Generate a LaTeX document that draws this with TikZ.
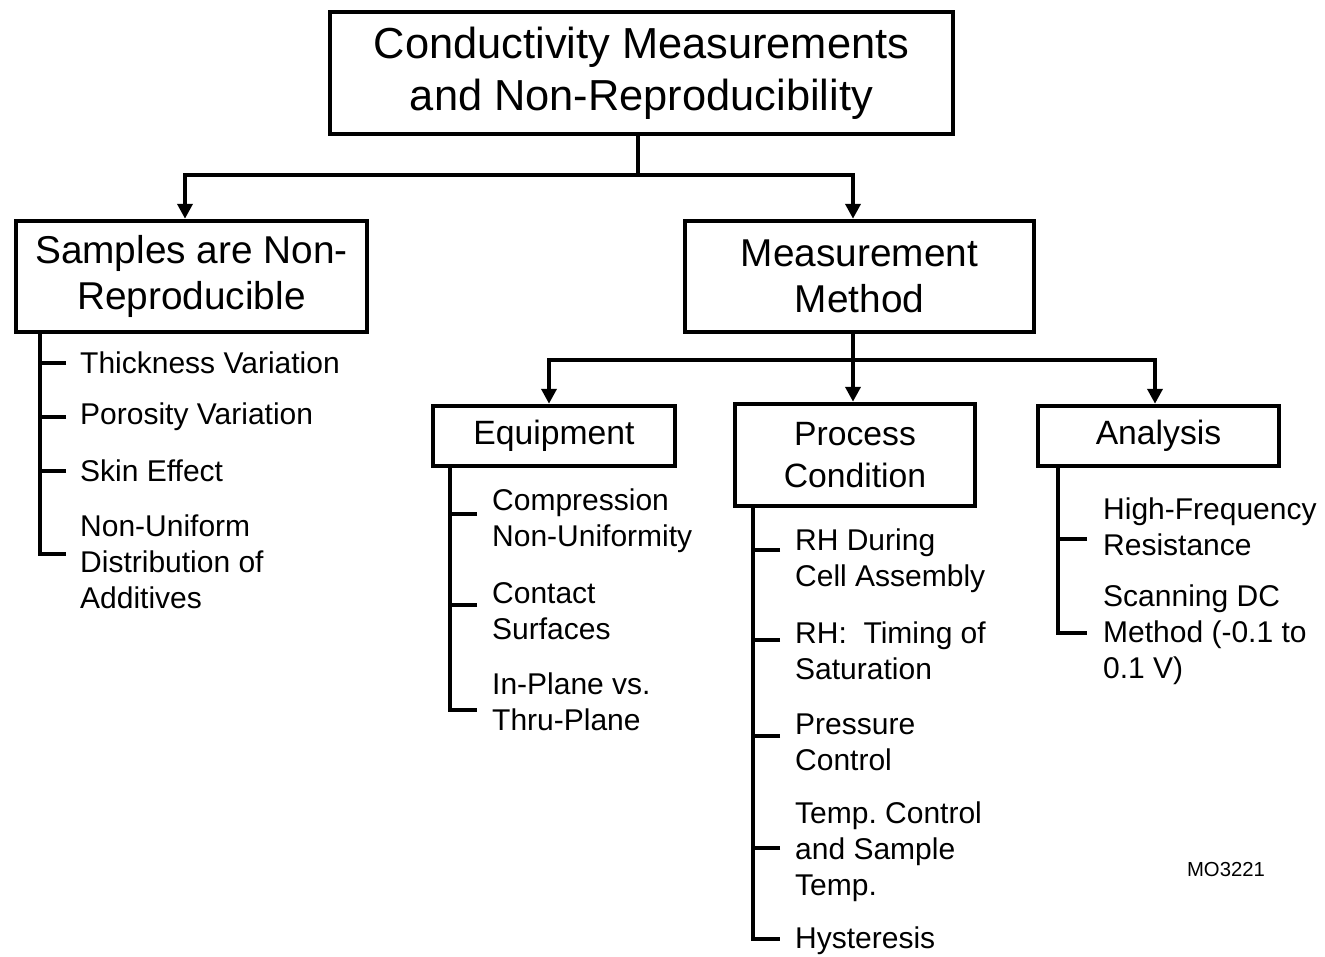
\documentclass[tikz,border=0pt]{standalone}
\usepackage{fontspec}
\setmainfont{Liberation Sans}
\usetikzlibrary{arrows.meta}
\frenchspacing
\begin{document}
\begin{tikzpicture}[x=1pt,y=-1pt,
  box/.style={draw,line width=4.5pt,align=center,inner sep=0pt},
  lvlone/.style={box,font=\fontsize{43.4}{52}\selectfont},
  lvltwo/.style={box,font=\fontsize{38.8}{46}\selectfont},
  lvlthree/.style={box,font=\fontsize{33.7}{42}\selectfont},
  item/.style={anchor=west,inner sep=0pt,align=left,font=\fontsize{30}{36}\selectfont},
  conn/.style={line width=4pt},
  arr/.style={conn,-{Triangle[width=15pt,length=15pt]}},
  brk/.style={line width=4pt}
]
\useasboundingbox (0,0) rectangle (1325,956);
% boxes
\node[lvlone,minimum width=623pt,minimum height=122pt] (title) at (641.5,73) {Conductivity Measurements\\and Non-Reproducibility};
\node[lvltwo,minimum width=351pt,minimum height=111pt] (samples) at (191.5,276.5) {Samples are Non-\\Reproducible};
\node[lvltwo,minimum width=349pt,minimum height=111pt] (meas) at (859.5,276.5) {Measurement\\Method};
\node[lvlthree,minimum width=242pt,minimum height=60pt] (equip) at (554,436) {Equipment};
\node[lvlthree,minimum width=240pt,minimum height=102pt] (proc) at (855,455) {Process\\Condition};
\node[lvlthree,minimum width=241pt,minimum height=60pt] (anal) at (1158.5,436) {Analysis};
% junction rows
\coordinate (rowa) at (0,175);
\coordinate (rowb) at (0,360);
\draw[conn] ([xshift=-3.5pt]title.south) -- ([xshift=-3.5pt]title.south |- rowa) coordinate (ja);
\draw[arr] (ja) -| ([xshift=-6.5pt]samples.north);
\draw[arr] (ja) -| ([xshift=-6.5pt]meas.north);
\draw[conn] ([xshift=-6.5pt]meas.south) -- ([xshift=-6.5pt]meas.south |- rowb) coordinate (jb);
\draw[arr] (jb) -| ([xshift=-5pt]equip.north);
\draw[arr] (jb) -| ([xshift=-2pt]proc.north);
\draw[arr] (jb) -| ([xshift=-3.5pt]anal.north);
% left items
\node[item] (s1) at (80,363) {Thickness Variation};
\node[item] (s2) at (80,417) {Porosity Variation};
\node[item] (s3) at (80,471) {Skin Effect};
\node[item] (s4) at (80,562) {Non-Uniform\\Distribution of\\Additives};
\coordinate (bs) at ([xshift=26pt]samples.south west);
\draw[brk] (bs) |- ([xshift=-14pt,yshift=8pt]s4.west);
\draw[brk] ([xshift=-14pt]s1.west) -- (s1.west -| bs);
\draw[brk] ([xshift=-14pt]s2.west) -- (s2.west -| bs);
\draw[brk] ([xshift=-14pt]s3.west) -- (s3.west -| bs);
% equipment items
\node[item] (e1) at (492,520.5) {Compression\\Non-Uniformity};
\node[item] (e2) at (492,611.5) {Contact\\Surfaces};
\node[item] (e3) at (492,702) {In-Plane vs.\\Thru-Plane};
\coordinate (be) at ([xshift=19pt]equip.south west);
\draw[brk] (be) |- ([xshift=-15pt,yshift=-8pt]e3.west);
\draw[brk] ([xshift=-15pt,yshift=6.5pt]e1.west) -- ([yshift=6.5pt]e1.west -| be);
\draw[brk] ([xshift=-15pt,yshift=6.5pt]e2.west) -- ([yshift=6.5pt]e2.west -| be);
% process items
\node[item] (p1) at (795,561) {RH During\\Cell Assembly};
\node[item] (p2) at (795,651) {RH:\ \ Timing of\\Saturation};
\node[item] (p3) at (795,742) {Pressure\\Control};
\node[item] (p4) at (795,852) {Temp. Control\\and Sample\\Temp.};
\node[item] (p5) at (795,941) {Hysteresis};
\coordinate (bp) at ([xshift=20pt]proc.south west);
\draw[brk] (bp) |- ([xshift=-15pt,yshift=2pt]p5.west);
\draw[brk] ([xshift=-15pt,yshift=11pt]p1.west) -- ([yshift=11pt]p1.west -| bp);
\draw[brk] ([xshift=-15pt,yshift=11pt]p2.west) -- ([yshift=11pt]p2.west -| bp);
\draw[brk] ([xshift=-15pt,yshift=6pt]p3.west) -- ([yshift=6pt]p3.west -| bp);
\draw[brk] ([xshift=-15pt,yshift=4pt]p4.west) -- ([yshift=4pt]p4.west -| bp);
% analysis items
\node[item] (a1) at (1103,527) {High-Frequency\\Resistance};
\node[item] (a2) at (1103,634.5) {Scanning DC\\Method (-0.1 to\\0.1 V)};
\coordinate (ba) at ([xshift=22pt]anal.south west);
\draw[brk] (ba) |- ([xshift=-16pt,yshift=1.5pt]a2.west);
\draw[brk] ([xshift=-16pt,yshift=-12pt]a1.west) -- ([yshift=-12pt]a1.west -| ba);
% figure id
\node[inner sep=0pt,font=\fontsize{20.3}{24}\selectfont] (fid) at (1226,869) {MO3221};
\end{tikzpicture}
\end{document}
